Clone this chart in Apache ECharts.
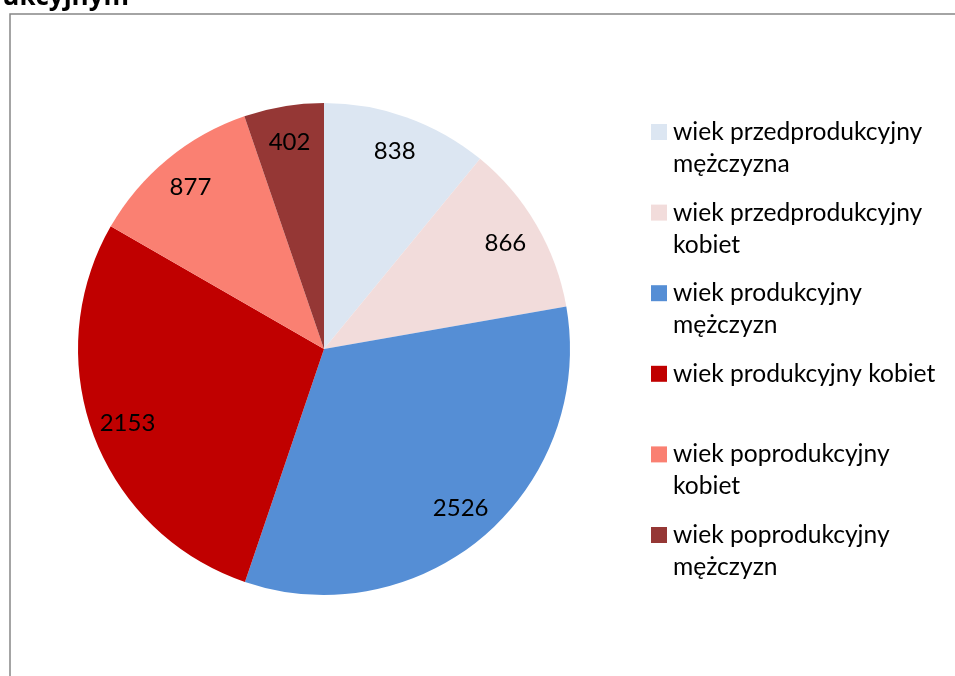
<!DOCTYPE html>
<html><head><meta charset="utf-8">
<script src="https://cdn.jsdelivr.net/npm/echarts@6/dist/echarts.min.js"></script>
<style>html,body{margin:0;padding:0;background:#fff}#c{width:955px;height:676px}</style>
</head><body><div id="c"></div>
<script>
const categories = [
  'wiek przedprodukcyjny mężczyzna',
  'wiek przedprodukcyjny kobiet',
  'wiek produkcyjny mężczyzn',
  'wiek produkcyjny kobiet',
  'wiek poprodukcyjny kobiet',
  'wiek poprodukcyjny mężczyzn'
];
const values = [838, 866, 2526, 2153, 877, 402];
const colors = ['#DCE6F2', '#F2DCDB', '#558ED5', '#C00000', '#FA8072', '#953735'];
const titleText = 'ukcyjnym';

const FONT = 'Lato';
const FS = 24.6;
const LFS = 24;

const rich = {
  t: {fontFamily: FONT, fontSize: FS, lineHeight: 32, color: '#000'},
  g: {width: 6, height: 16, lineHeight: 32},
  sp: {width: 22, height: 16, lineHeight: 32}
};
colors.forEach((c, i) => { rich['s' + i] = {width: 16, height: 16, backgroundColor: c, lineHeight: 32}; });

function wrap(name) {
  if (name.length <= 23) return [name, ''];
  const w = name.split(' ');
  return [w.slice(0, 2).join(' '), w.slice(2).join(' ')];
}

const data = categories.map((n, i) => ({name: n, value: values[i], itemStyle: {color: colors[i]}}));
const labelData = categories.map((n, i) => ({name: n, value: values[i]}));

const chart = echarts.init(document.getElementById('c'), null, {renderer: 'canvas'});
chart.setOption({
  animation: false,
  backgroundColor: '#fff',
  graphic: [
    {type: 'rect', shape: {x: 10, y: 14, width: 1200, height: 1000}, style: {fill: 'none', stroke: '#878787', lineWidth: 1.5}, silent: true},
    {type: 'text', x: 129, y: 11, style: {text: titleText, font: 'bold 26px "Open Sans"', fill: '#000', align: 'right', verticalAlign: 'bottom'}, silent: true}
  ],
  legend: {
    orient: 'vertical',
    left: 646,
    top: 116,
    padding: 0,
    itemGap: 16.6,
    itemWidth: 0,
    itemHeight: 0,
    icon: 'none',
    data: categories,
    formatter: function (name) {
      const i = categories.indexOf(name);
      const l = wrap(name);
      return '{s' + i + '|}{g|}{t|' + l[0] + '}\n{sp|}{t|' + (l[1] || ' ') + '}';
    },
    textStyle: {rich: rich, fontFamily: FONT, fontSize: FS, lineHeight: 32}
  },
  series: [
    {
      type: 'pie',
      center: [324, 349],
      radius: [0, 246],
      startAngle: 90,
      clockwise: true,
      data: data,
      label: {show: false},
      labelLine: {show: false},
      itemStyle: {borderWidth: 0},
      emphasis: {scale: false},
      silent: true
    },
    {
      type: 'pie',
      center: [324, 349],
      radius: [168, 246],
      startAngle: 90,
      clockwise: true,
      data: labelData,
      itemStyle: {color: 'rgba(0,0,0,0)', borderWidth: 0},
      label: {show: true, position: 'inside', formatter: '{c}', fontFamily: FONT, fontSize: LFS, color: '#000'},
      labelLine: {show: false},
      emphasis: {scale: false},
      silent: true
    }
  ]
});
</script></body></html>
